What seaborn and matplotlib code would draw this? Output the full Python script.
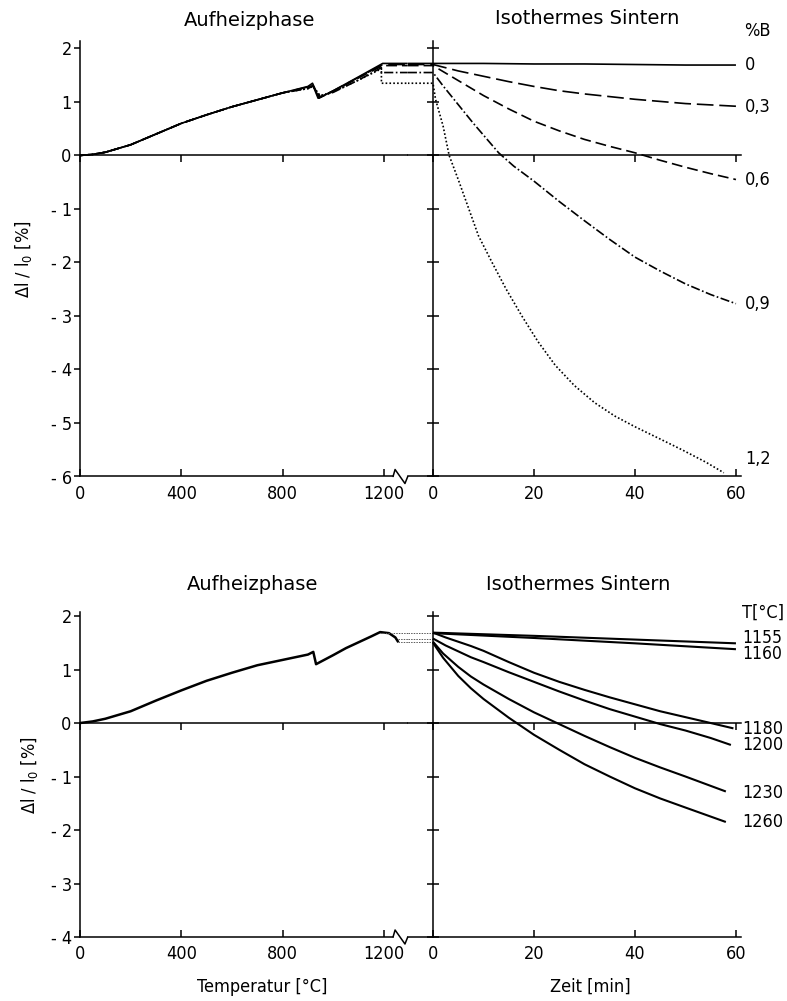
import matplotlib
matplotlib.use("Agg")
import numpy as np
import pandas as pd
import seaborn as sns
import matplotlib.pyplot as plt
from matplotlib import transforms

# ---------------------------------------------------------------- data
# upper panel: heating phase, length change (%) vs temperature (°C) per boron content
heat_T_common = [0, 50, 100, 200, 300, 400, 500, 600, 700, 800]
heat_dl_common = [0.0, 0.02, 0.06, 0.20, 0.40, 0.60, 0.76, 0.91, 1.04, 1.17]

heat_T_b00 = [900, 918, 943, 1000, 1100, 1195]
heat_dl_b00 = [1.29, 1.35, 1.07, 1.21, 1.47, 1.72]
heat_T_b03 = [900, 918, 940, 1000, 1100, 1195]
heat_dl_b03 = [1.28, 1.33, 1.07, 1.21, 1.46, 1.70]
heat_T_b06 = [900, 920, 945, 1000, 1100, 1195]
heat_dl_b06 = [1.27, 1.31, 1.08, 1.20, 1.45, 1.68]
heat_T_b09 = [900, 920, 948, 1000, 1100, 1190, 1190]
heat_dl_b09 = [1.25, 1.30, 1.10, 1.18, 1.41, 1.64, 1.55]
heat_T_b12 = [900, 920, 948, 1000, 1100, 1190, 1190]
heat_dl_b12 = [1.25, 1.29, 1.12, 1.19, 1.41, 1.62, 1.35]

# upper panel: isothermal sintering, length change (%) vs time (min)
sint_t_b00 = [0, 10, 20, 30, 40, 50, 60]
sint_dl_b00 = [1.72, 1.72, 1.71, 1.71, 1.70, 1.69, 1.69]
sint_t_b03 = [0, 5, 10, 15, 20, 25, 30, 40, 50, 60]
sint_dl_b03 = [1.70, 1.58, 1.48, 1.38, 1.29, 1.21, 1.15, 1.05, 0.97, 0.92]
sint_t_b06 = [0, 2.5, 5, 10, 15, 20, 25, 30, 35, 40, 45, 50, 55, 60]
sint_dl_b06 = [1.68, 1.54, 1.40, 1.12, 0.87, 0.64, 0.46, 0.30, 0.17, 0.05,
               -0.09, -0.22, -0.34, -0.45]
sint_t_b09 = [0, 2, 5, 8, 10, 13, 16, 20, 25, 30, 35, 40, 45, 50, 55, 60]
sint_dl_b09 = [1.55, 1.30, 0.95, 0.60, 0.38, 0.05, -0.20, -0.48, -0.86, -1.22,
               -1.57, -1.90, -2.16, -2.40, -2.60, -2.77]
sint_t_b12 = [0, 0.5, 2, 3.2, 5, 7.1, 9, 11.7, 14.5, 17.6, 20.8, 24.2, 28, 32,
              36, 40, 45, 49.3, 54, 57.6]
sint_dl_b12 = [1.35, 1.05, 0.55, 0.0, -0.45, -1.0, -1.5, -2.0, -2.5, -3.0,
               -3.48, -3.92, -4.30, -4.62, -4.87, -5.07, -5.30, -5.50, -5.73,
               -5.93]

boron_labels = ["0", "0,3", "0,6", "0,9", "1,2"]

# lower panel: heating curve
heat2_T = [0, 50, 100, 150, 200, 300, 400, 500, 600, 700, 800, 900, 921, 932,
           1000, 1050, 1100, 1150, 1185, 1220, 1245, 1257]
heat2_dl = [0.0, 0.03, 0.08, 0.15, 0.22, 0.42, 0.61, 0.79, 0.94, 1.08, 1.18,
            1.28, 1.33, 1.10, 1.27, 1.40, 1.51, 1.62, 1.70, 1.68, 1.60, 1.51]
# hold levels carried over to the sintering start
hold_T = [1185, 1257, 1257]
hold_dl = [1.69, 1.58, 1.52]

# lower panel: isothermal sintering at different temperatures
sint2_t_1155 = [0, 20, 40, 60]
sint2_dl_1155 = [1.69, 1.63, 1.56, 1.49]
sint2_t_1160 = [0, 20, 40, 60]
sint2_dl_1160 = [1.68, 1.59, 1.49, 1.38]
sint2_t_1180 = [0, 2.5, 5, 7.5, 10, 15, 20, 25, 30, 35, 40, 45, 50, 55, 59.5]
sint2_dl_1180 = [1.69, 1.60, 1.52, 1.44, 1.35, 1.14, 0.94, 0.77, 0.62, 0.48,
                 0.35, 0.22, 0.11, 0.0, -0.10]
sint2_t_1200 = [0, 2.5, 5, 7.5, 10, 15, 20, 25, 30, 35, 40, 45, 50, 55, 59]
sint2_dl_1200 = [1.58, 1.45, 1.34, 1.23, 1.14, 0.95, 0.77, 0.59, 0.42, 0.26,
                 0.12, -0.02, -0.14, -0.28, -0.41]
sint2_t_1230 = [0, 2, 5, 7.5, 10, 15, 20, 25, 30, 35, 40, 45, 50, 58]
sint2_dl_1230 = [1.52, 1.30, 1.05, 0.87, 0.72, 0.45, 0.20, -0.02, -0.24, -0.45,
                 -0.65, -0.83, -1.00, -1.28]
sint2_t_1260 = [0, 2, 5, 7.5, 10, 15, 20, 25, 30, 35, 40, 45, 50, 58]
sint2_dl_1260 = [1.50, 1.22, 0.88, 0.65, 0.45, 0.10, -0.22, -0.50, -0.77, -1.00,
                 -1.22, -1.41, -1.58, -1.85]

temp_labels = ["1155", "1160", "1180", "1200", "1230", "1260"]

# ---------------------------------------------------------------- style
sns.set_theme(style="white")
plt.rcParams["font.family"] = ["DejaVu Sans"]
plt.rcParams["font.stretch"] = "condensed"
plt.rcParams["text.color"] = "black"
plt.rcParams["axes.labelcolor"] = "black"
plt.rcParams["xtick.color"] = "black"
plt.rcParams["ytick.color"] = "black"

W, H = 787, 1001
fig = plt.figure(figsize=(W / 100, H / 100), dpi=100)

T_MAX = 1294          # right end of the temperature axis
T_BREAK = 1236        # where the axis break starts
t_MIN, t_MAX = -5, 61


def rect(x0, x1, ytop, ybot):
    return [x0 / W, 1 - ybot / H, (x1 - x0) / W, (ybot - ytop) / H]


def style_pair(axL, axR, ymin, ymax, ticks):
    for ax in (axL, axR):
        ax.set_facecolor("white")
        ax.grid(False)
        ax.set_ylim(ymin, ymax)
        ax.spines["right"].set_visible(False)
        ax.spines["top"].set_position(("data", 0))
        for s in ("left", "bottom", "top"):
            ax.spines[s].set_color("black")
            ax.spines[s].set_linewidth(1.1)
        ax.tick_params(axis="x", which="major", top=True, bottom=True,
                       direction="in", length=5, width=1.1, labelsize=13,
                       pad=6, labeltop=False, colors="black")
        ax.set_xlabel("")
        ax.set_ylabel("")
    axL.set_xlim(0, T_MAX)
    axR.set_xlim(t_MIN, t_MAX)
    axL.set_xticks([0, 400, 800, 1200])
    axR.set_xticks([0, 20, 40, 60])
    axL.set_yticks(ticks)
    axL.set_yticklabels([str(v) if v >= 0 else "- %d" % -v for v in ticks])
    axL.tick_params(axis="y", direction="out", length=4, width=1.1,
                    labelsize=13, pad=2, left=True, colors="black")
    axR.spines["left"].set_position(("data", 0))
    axR.set_yticks(ticks)
    axR.tick_params(axis="y", direction="inout", length=9, width=1.1,
                    labelleft=False, left=True)
    axL.spines["bottom"].set_bounds(0, T_BREAK)
    # zig-zag axis break
    tr = transforms.blended_transform_factory(axL.transData, axL.transAxes)
    h_px = axL.get_position().height * H
    d = 7 / h_px
    axL.plot([T_BREAK, T_BREAK + 8, T_BREAK + 47, T_MAX], [0, d, -d, 0],
             transform=tr, color="black", lw=1.1, clip_on=False)


def line(ax, x, y, ls="-", lw=1.3, color="black"):
    sns.lineplot(x=x, y=y, ax=ax, color=color, lw=lw, estimator=None,
                 sort=False, errorbar=None)
    ln = ax.lines[-1]
    ln.set_linestyle(ls)
    ln.set_solid_capstyle("butt")
    ln.set_solid_joinstyle("round")
    return ln


styles = ["-", (0, (10, 3.5)), (0, (6.5, 3)), (0, (5.5, 1.5, 1, 1.5)),
          (0, (1, 1.3))]

# ---------------------------------------------------------------- upper panel
axL1 = fig.add_axes(rect(80, 407.75, 41.5, 476.5))
axR1 = fig.add_axes(rect(407.75, 741, 41.5, 476.5))

heat_sets = [(heat_T_b00, heat_dl_b00), (heat_T_b03, heat_dl_b03),
             (heat_T_b06, heat_dl_b06), (heat_T_b09, heat_dl_b09),
             (heat_T_b12, heat_dl_b12)]
sint_sets = [(sint_t_b00, sint_dl_b00), (sint_t_b03, sint_dl_b03),
             (sint_t_b06, sint_dl_b06), (sint_t_b09, sint_dl_b09),
             (sint_t_b12, sint_dl_b12)]

for (hT, hdl), (st, sdl), ls in zip(heat_sets, sint_sets, styles):
    T = heat_T_common + hT + [T_MAX]
    dl = heat_dl_common + hdl + [hdl[-1]]
    line(axL1, T, dl, ls=ls, lw=1.2)
    line(axR1, [t_MIN] + st, [sdl[0]] + sdl, ls=ls, lw=1.2)

label_y1 = [1.70, 0.90, -0.45, -2.77, -5.68]
for lab, yv in zip(boron_labels, label_y1):
    axR1.text(61.8, yv, lab, fontsize=13, va="center", ha="left",
              clip_on=False)
axR1.text(64.3, 2.32, "%B", fontsize=13, va="center", ha="center",
          clip_on=False)

style_pair(axL1, axR1, -6, 2.13, list(range(-6, 3)))

# ---------------------------------------------------------------- lower panel
axL2 = fig.add_axes(rect(80, 407.75, 612.3, 937))
axR2 = fig.add_axes(rect(407.75, 741, 612.3, 937))

line(axL2, heat2_T, heat2_dl, lw=1.8)
for hT, hdl in zip(hold_T, hold_dl):
    line(axL2, [hT, T_MAX], [hdl, hdl], ls=(0, (1.5, 1.2)), lw=0.7,
         color="0.35")
    line(axR2, [t_MIN, 0], [hdl, hdl], ls=(0, (1.5, 1.2)), lw=0.7,
         color="0.35")

sint2_sets = [(sint2_t_1155, sint2_dl_1155), (sint2_t_1160, sint2_dl_1160),
              (sint2_t_1180, sint2_dl_1180), (sint2_t_1200, sint2_dl_1200),
              (sint2_t_1230, sint2_dl_1230), (sint2_t_1260, sint2_dl_1260)]
for st, sdl in sint2_sets:
    line(axR2, st, sdl, lw=1.5)

# the two nearly coincident curves share one stacked label
axR2.text(61.2, 1.44, "\n".join(temp_labels[:2]), fontsize=12.5, va="center",
          ha="left", linespacing=0.82, clip_on=False)
label_y2 = [-0.11, -0.41, -1.31, -1.85]
for lab, yv in zip(temp_labels[2:], label_y2):
    axR2.text(61.2, yv, lab, fontsize=13, va="center", ha="left",
              clip_on=False)
axR2.text(61.2, 2.06, "T[°C]", fontsize=13, va="center", ha="left",
          clip_on=False)

style_pair(axL2, axR2, -4, 2.07, list(range(-4, 3)))

# ---------------------------------------------------------------- texts
title_kw = dict(fontsize=14, ha="center", va="center", fontstretch="normal")
fig.text(250 / W, 1 - 20 / H, "Aufheizphase", **title_kw)
fig.text(587 / W, 1 - 18 / H, "Isothermes Sintern", **title_kw)
fig.text(253 / W, 1 - 585 / H, "Aufheizphase", **title_kw)
fig.text(578 / W, 1 - 585 / H, "Isothermes Sintern", **title_kw)

ylab = "Δl / l$_\\mathregular{0}$ [%]"
fig.text(23 / W, 1 - 259 / H, ylab, rotation=90, fontsize=13, ha="center",
         va="center")
fig.text(30 / W, 1 - 775 / H, ylab, rotation=90, fontsize=13, ha="center",
         va="center")
fig.text(262 / W, 1 - 987 / H, "Temperatur [°C]", fontsize=13, ha="center",
         va="center")
fig.text(590 / W, 1 - 987 / H, "Zeit [min]", fontsize=13, ha="center",
         va="center")

fig.savefig("out.png", dpi=100, facecolor="white")
